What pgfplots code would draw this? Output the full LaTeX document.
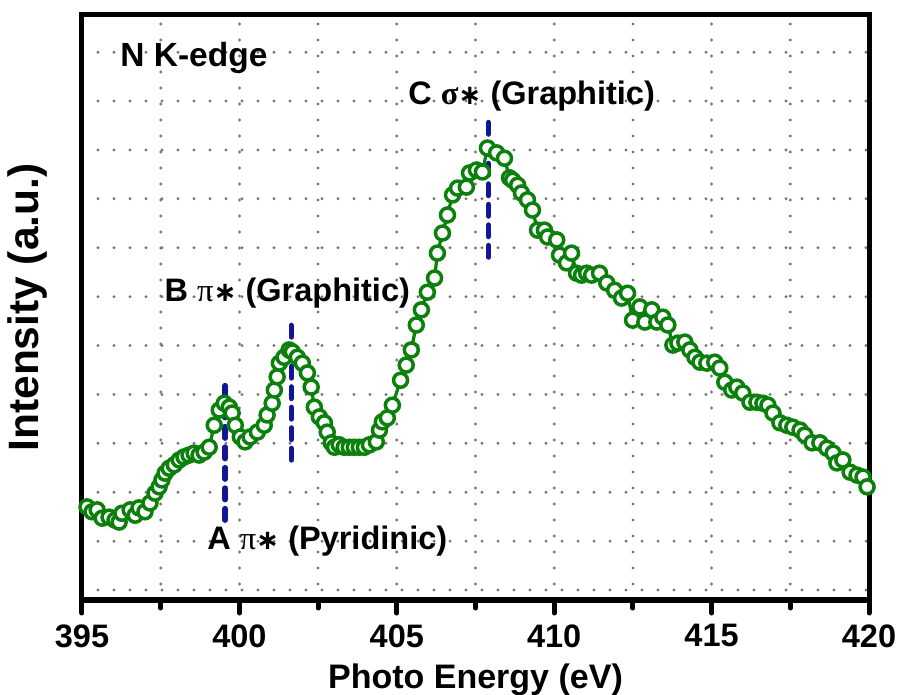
\documentclass[border=0pt]{standalone}
\usepackage{fontspec}
\setmainfont{Liberation Sans}
\newfontfamily\greekfont{Liberation Serif}
\newfontfamily\symfont{DejaVu Sans}
\usepackage{pgfplots}
\pgfplotsset{compat=1.18}

\definecolor{datagreen}{RGB}{12,128,12}
\definecolor{peakblue}{RGB}{16,22,150}
\definecolor{gridgray}{RGB}{118,118,118}

\newcommand{\st}{{\symfont\bfseries\fontsize{11}{13}\selectfont ∗}}

% N K-edge NEXAFS spectrum
\pgfplotstableread{
x y
395.16 1.70
395.32 1.60
395.48 1.64
395.64 1.47
395.86 1.49
396.05 1.43
396.18 1.39
396.27 1.57
396.53 1.64
396.69 1.53
396.81 1.68
397.00 1.60
397.16 1.78
397.32 1.98
397.45 2.11
397.54 2.25
397.64 2.39
397.77 2.49
397.93 2.56
398.09 2.66
398.24 2.72
398.40 2.76
398.56 2.80
398.72 2.76
398.88 2.82
399.04 2.92
399.20 3.37
399.36 3.68
399.52 3.82
399.68 3.74
399.77 3.62
399.87 3.37
400.03 3.13
400.18 3.03
400.34 3.13
400.57 3.23
400.79 3.37
400.88 3.58
401.04 3.82
401.11 4.09
401.20 4.36
401.27 4.64
401.42 4.76
401.58 4.91
401.68 4.87
401.84 4.76
402.00 4.64
402.16 4.44
402.28 4.15
402.38 3.74
402.54 3.54
402.70 3.42
402.79 3.23
402.92 3.01
403.02 2.92
403.17 2.97
403.33 2.92
403.49 2.92
403.65 2.92
403.81 2.92
403.97 2.92
404.13 2.97
404.35 3.03
404.45 3.27
404.54 3.44
404.70 3.52
404.86 3.78
405.12 4.29
405.30 4.60
405.46 4.91
405.62 5.42
405.78 5.73
405.97 6.09
406.20 6.38
406.29 6.89
406.45 7.30
406.61 7.67
406.77 8.08
406.93 8.22
407.21 8.24
407.31 8.53
407.53 8.59
407.72 8.55
407.88 9.04
408.17 8.94
408.42 8.83
408.58 8.43
408.68 8.38
408.84 8.28
408.96 8.12
409.15 7.98
409.31 7.77
409.47 7.36
409.69 7.36
409.79 7.22
410.08 7.16
410.17 6.85
410.39 6.69
410.55 6.89
410.71 6.48
410.87 6.44
411.03 6.48
411.19 6.44
411.44 6.48
411.67 6.28
411.92 6.13
412.14 5.97
412.33 6.07
412.49 5.52
412.72 5.79
412.88 5.48
413.10 5.73
413.26 5.48
413.45 5.58
413.61 5.42
413.77 5.01
413.93 5.05
414.15 5.07
414.31 4.91
414.47 4.76
414.63 4.66
414.85 4.64
415.10 4.66
415.26 4.54
415.42 4.25
415.64 4.09
415.80 4.15
415.99 4.03
416.22 3.84
416.44 3.84
416.63 3.82
416.79 3.78
416.95 3.62
417.17 3.42
417.39 3.37
417.58 3.33
417.81 3.27
417.96 3.17
418.19 3.01
418.44 3.01
418.66 2.90
418.86 2.80
418.98 2.60
419.17 2.66
419.40 2.41
419.62 2.35
419.81 2.31
419.94 2.11
}\spectrum

\begin{document}
\begin{tikzpicture}
\begin{axis}[
  scale only axis,
  width=314.8pt, height=234pt,
  xmin=395, xmax=420,
  ymin=-0.204, ymax=11.76,
  xtick={395,400,...,420},
  minor xtick={397.5,402.5,...,417.5},
  ytick={0,...,11},
  yticklabels={},
  xtick pos=bottom,
  ytick pos=left,
  tick align=outside,
  major tick length=5.2pt,
  minor tick length=3.2pt,
  xtick style={black, line width=2pt, line cap=round},
  y tick style={draw=none},
  axis line style={black, line width=2pt},
  xmajorgrids=true, xminorgrids=true, ymajorgrids=true,
  major grid style={gridgray, line width=1.3pt, line cap=round, dash pattern=on 0pt off 6.4pt},
  minor grid style={gridgray, line width=1.3pt, line cap=round, dash pattern=on 0pt off 6.4pt},
  /pgf/number format/assume math mode=true,
  xticklabel style={font=\bfseries\fontsize{13}{15}\selectfont, yshift=-1pt},
  xlabel={Photo Energy (eV)},
  xlabel style={font=\bfseries\fontsize{13.6}{16}\selectfont,
    at={(axis description cs:0.5,0)}, anchor=north, yshift=-22pt},
  ylabel={Intensity (a.u.)},
  ylabel style={font=\bfseries\fontsize{17}{20}\selectfont,
    at={(axis description cs:-0.0686,0.5)}, anchor=center},
]
% peak position markers
\addplot[peakblue, line width=2.2pt, line cap=round, dash pattern=on 4.6pt off 3.6pt]
  coordinates {(399.55,1.43) (399.55,4.23)};
\addplot[peakblue, line width=2.2pt, line cap=round, dash pattern=on 4.6pt off 3.6pt]
  coordinates {(401.65,2.66) (401.65,5.42)};
\addplot[peakblue, line width=2.2pt, line cap=round, dash pattern=on 4.6pt off 3.6pt]
  coordinates {(407.91,6.81) (407.91,9.57)};

% measured spectrum
\addplot[datagreen, line width=1.3pt, mark=*, mark size=2.8pt,
  mark options={solid, fill=white, draw=datagreen, line width=1.4pt}]
  table[x=x, y=y] {\spectrum};

\node[anchor=base west, font=\bfseries\fontsize{13.4}{16}\selectfont]
  at (axis cs:395.94,10.70) {N K-edge};
\node[anchor=base, font=\bfseries\fontsize{13}{15}\selectfont]
  at (axis cs:409.28,9.92) {C {\greekfont σ}\st\ (Graphitic)};
\node[anchor=base, font=\bfseries\fontsize{13}{15}\selectfont]
  at (axis cs:401.52,5.90) {B {\greekfont\mdseries π}\st\ (Graphitic)};
\node[anchor=base, font=\bfseries\fontsize{13}{15}\selectfont]
  at (axis cs:402.79,0.82) {A {\greekfont\mdseries π}\st\ (Pyridinic)};
\end{axis}
\pgfresetboundingbox
\path[use as bounding box] (-32.8pt,-38pt) rectangle (328.4pt,240pt);
\end{tikzpicture}
\end{document}
